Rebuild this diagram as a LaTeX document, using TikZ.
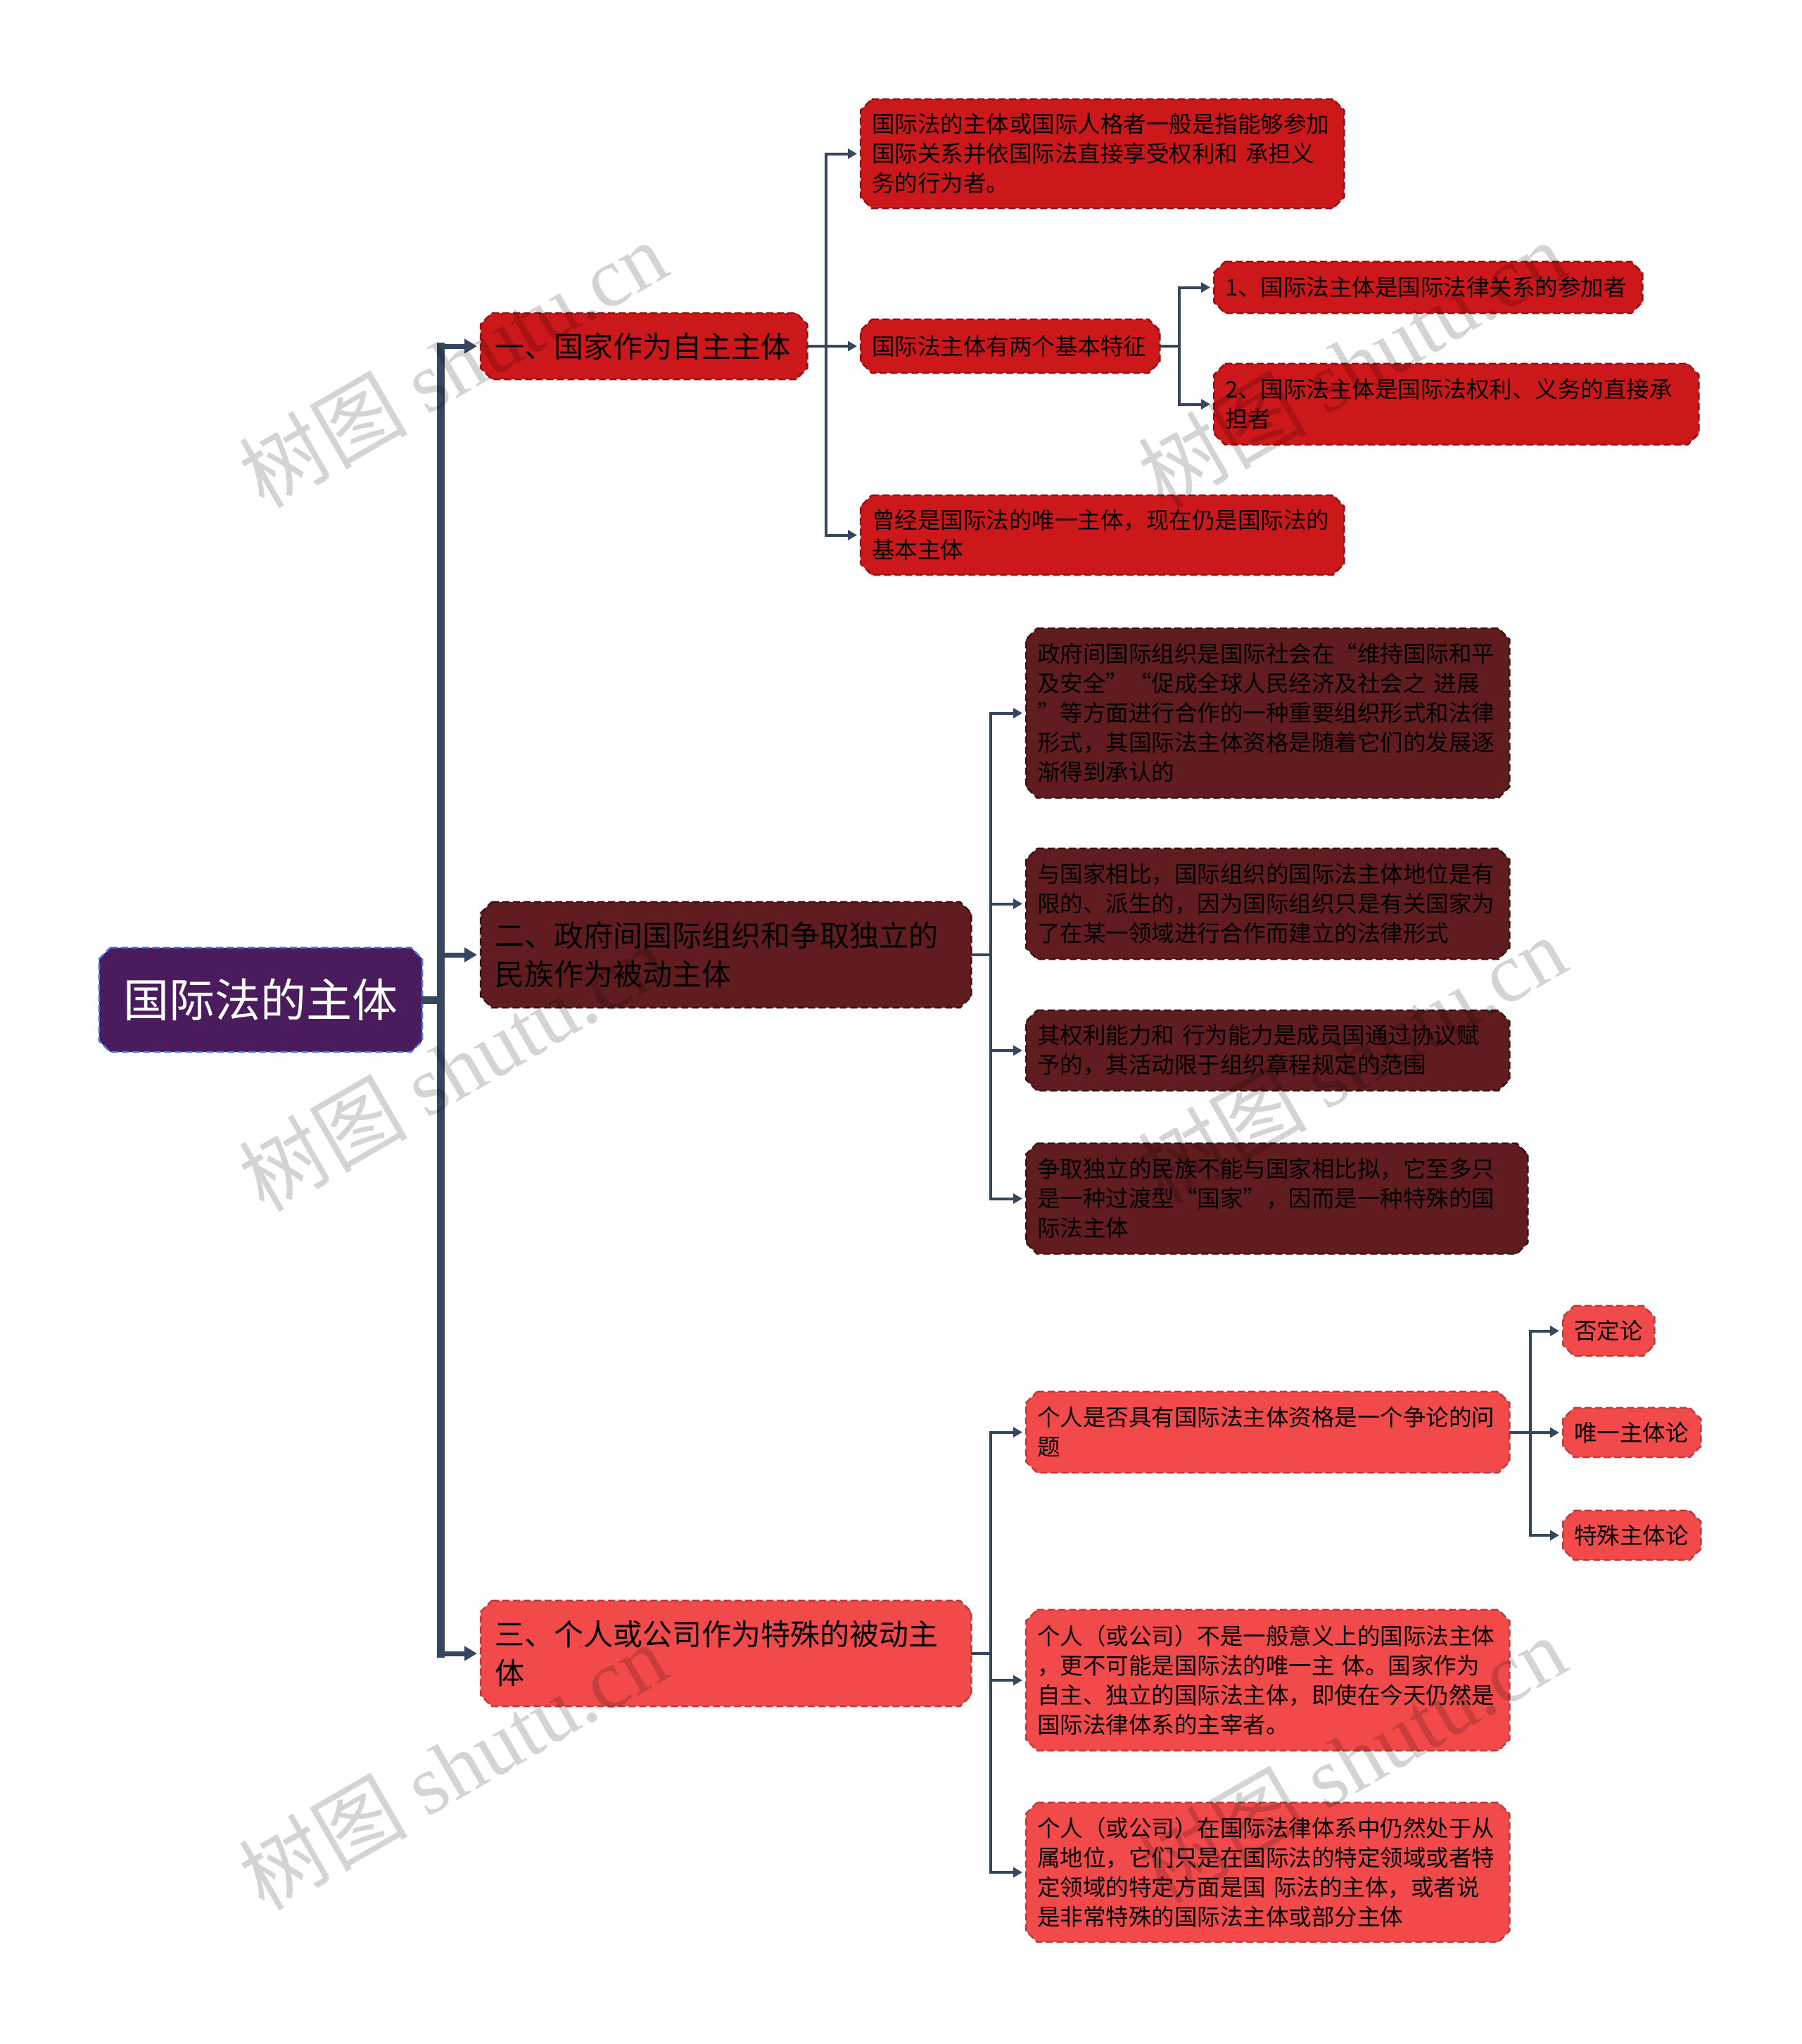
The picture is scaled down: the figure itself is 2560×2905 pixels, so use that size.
\documentclass[tikz,border=0pt]{standalone}
\usepackage{fontspec}
\setmainfont{Noto Sans CJK SC}
\newfontfamily\wmlatin{Liberation Serif}
\usetikzlibrary{arrows.meta}
\pgfdeclarelayer{paperlayer}
\pgfdeclarelayer{boxlayer}
\pgfsetlayers{paperlayer,boxlayer,main}
\definecolor{rootfill}{RGB}{74,28,94}
\definecolor{rootline}{RGB}{70,120,225}
\definecolor{redA}{RGB}{204,24,26}
\definecolor{darkA}{RGB}{96,28,30}
\definecolor{lightA}{RGB}{242,74,74}
\definecolor{conn}{RGB}{52,71,94}
\newcommand\chbox[3]{%
  \path[fill=#2, draw=#3, line width=2.5pt, dash pattern=on 10pt off 5pt]
    ([xshift=16pt]#1.north west) -- ([xshift=-16pt]#1.north east) --
    ([yshift=-16pt]#1.north east) -- ([yshift=16pt]#1.south east) --
    ([xshift=-16pt]#1.south east) -- ([xshift=16pt]#1.south west) --
    ([yshift=16pt]#1.south west) -- ([yshift=-16pt]#1.north west) -- cycle;}
\tikzset{
  leafbox/.style={rectangle, anchor=west, inner xsep=16pt, inner ysep=0pt, align=left,
    font=\fontsize{32.5}{42}\selectfont, text=black},
  branchbox/.style={rectangle, anchor=west, inner xsep=20pt, inner ysep=0pt, align=left,
    font=\fontsize{42}{55}\selectfont, text=black},
  rootbox/.style={rectangle, inner sep=0pt, align=center,
    font=\fontsize{65}{78}\selectfont, text=white},
  trunkline/.style={draw=conn, line width=11pt},
  mainarrow/.style={draw=conn, line width=7pt, -{Triangle[length=18pt,width=20pt]}, shorten >=5pt},
  subarrow/.style={draw=conn, line width=4pt, -{Triangle[length=13pt,width=14pt]}, shorten >=5pt},
  wm/.style={text=black, text opacity=0.17, rotate=30, inner sep=0pt,
    font=\fontsize{120}{120}\selectfont}
}
\begin{document}
\begin{tikzpicture}[x=1pt,y=-1pt]
\begin{pgfonlayer}{paperlayer}
\fill[white] (0,0) rectangle (2560,2905);
\end{pgfonlayer}
\useasboundingbox (0,0) rectangle (2560,2905);

% root and first level
\node[rootbox, minimum width=459pt, minimum height=148pt] (root) at (370.5,1421) {国际法的主体};
\node[branchbox, text width=424pt, minimum height=94pt] (b1) at (683,492) {一、国家作为自主主体};
\node[branchbox, text width=657pt, minimum height=150pt] (b2) at (683,1357) {二、政府间国际组织和争取独立的\\民族作为被动主体};
\node[branchbox, text width=657pt, minimum height=150pt] (b3) at (683,2350) {三、个人或公司作为特殊的被动主\\体};

% branch 1 children
\node[leafbox, text width=655pt, minimum height=155pt] (a1) at (1223,218.5) {国际法的主体或国际人格者一般是指能够参加\\国际关系并依国际法直接享受权利和 承担义\\务的行为者。};
\node[leafbox, text width=393pt, minimum height=76pt] (a2) at (1223,492) {国际法主体有两个基本特征};
\node[leafbox, text width=655pt, minimum height=113pt] (a3) at (1223,760.5) {曾经是国际法的唯一主体，现在仍是国际法的\\基本主体};
\node[leafbox, text width=577pt, minimum height=73pt] (a2a) at (1725,408.5) {1、国际法主体是国际法律关系的参加者};
\node[leafbox, text width=657pt, minimum height=115pt] (a2b) at (1725,574.5) {2、国际法主体是国际法权利、义务的直接承\\担者};

% branch 2 children
\node[leafbox, text width=655pt, minimum height=241pt] (d1) at (1458,1013.5) {政府间国际组织是国际社会在“维持国际和平\\及安全”“促成全球人民经济及社会之 进展\\”等方面进行合作的一种重要组织形式和法律\\形式，其国际法主体资格是随着它们的发展逐\\渐得到承认的};
\node[leafbox, text width=655pt, minimum height=157pt] (d2) at (1458,1284.5) {与国家相比，国际组织的国际法主体地位是有\\限的、派生的，因为国际组织只是有关国家为\\了在某一领域进行合作而建立的法律形式};
\node[leafbox, text width=655pt, minimum height=114pt] (d3) at (1458,1493) {其权利能力和 行为能力是成员国通过协议赋\\予的，其活动限于组织章程规定的范围};
\node[leafbox, text width=681pt, minimum height=157pt] (d4) at (1458,1703.5) {争取独立的民族不能与国家相比拟，它至多只\\是一种过渡型“国家”，因而是一种特殊的国\\际法主体};

% branch 3 children
\node[leafbox, text width=655pt, minimum height=115pt] (e1) at (1458,2035.5) {个人是否具有国际法主体资格是一个争论的问\\题};
\node[leafbox, text width=655pt, minimum height=200pt] (e2) at (1458,2388) {个人（或公司）不是一般意义上的国际法主体\\，更不可能是国际法的唯一主 体。国家作为\\自主、独立的国际法主体，即使在今天仍然是\\国际法律体系的主宰者。};
\node[leafbox, text width=655pt, minimum height=198pt] (e3) at (1458,2661) {个人（或公司）在国际法律体系中仍然处于从\\属地位，它们只是在国际法的特定领域或者特\\定领域的特定方面是国 际法的主体，或者说\\是非常特殊的国际法主体或部分主体};
\node[leafbox, text width=98pt, minimum height=71pt] (f1) at (2221,1891.5) {否定论};
\node[leafbox, text width=164pt, minimum height=70pt] (f2) at (2221,2036) {唯一主体论};
\node[leafbox, text width=164pt, minimum height=70pt] (f3) at (2221,2182) {特殊主体论};

% box outlines
\begin{pgfonlayer}{boxlayer}
\chbox{root}{rootfill}{rootline}
\foreach \n in {b1,a1,a2,a3,a2a,a2b}{\chbox{\n}{redA}{redA!72!black}}
\foreach \n in {b2,d1,d2,d3,d4}{\chbox{\n}{darkA}{darkA!65!black}}
\foreach \n in {b3,e1,e2,e3,f1,f2,f3}{\chbox{\n}{lightA}{lightA!78!black}}
\end{pgfonlayer}

% junction points
\coordinate (tj) at (626,1421);
\coordinate (j1) at (1174,492);
\coordinate (jA) at (1676,492);
\coordinate (j2) at (1408,1357);
\coordinate (j3) at (1408,2350);
\coordinate (jE) at (2175,2035.5);

% main trunk
\draw[trunkline] (root.east) -- (tj);
\draw[trunkline] ([yshift=5.5pt]tj |- b1.west) -- ([yshift=-5.5pt]tj |- b3.west);
\foreach \n in {b1,b2,b3}{\draw[mainarrow] (tj |- \n.west) -- (\n.west);}

% sub connectors
\foreach \n in {a1,a2,a3}{\draw[subarrow] (b1.east) -- (j1) |- (\n.west);}
\foreach \n in {a2a,a2b}{\draw[subarrow] (a2.east) -- (jA) |- (\n.west);}
\foreach \n in {d1,d2,d3,d4}{\draw[subarrow] (b2.east) -- (j2) |- (\n.west);}
\foreach \n in {e1,e2,e3}{\draw[subarrow] (b3.east) -- (j3) |- (\n.west);}
\foreach \n in {f1,f2,f3}{\draw[subarrow] (e1.east) -- (jE) |- (\n.west);}

% watermarks
\node[wm] (w1) at (643,517) {树图 {\wmlatin shutu.cn}};
\node[wm] (w2) at (1921,517) {树图 {\wmlatin shutu.cn}};
\node[wm] (w3) at (643,1517) {树图 {\wmlatin shutu.cn}};
\node[wm] (w4) at (1921,1505) {树图 {\wmlatin shutu.cn}};
\node[wm] (w5) at (643,2510) {树图 {\wmlatin shutu.cn}};
\node[wm] (w6) at (1921,2500) {树图 {\wmlatin shutu.cn}};
\end{tikzpicture}
\end{document}
